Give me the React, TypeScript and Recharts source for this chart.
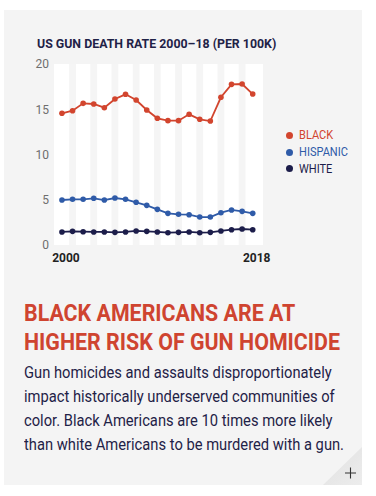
import React from "react";
import { LineChart, Line, XAxis, YAxis, CartesianGrid, ReferenceArea, Legend } from "recharts";

const years = [2000, 2001, 2002, 2003, 2004, 2005, 2006, 2007, 2008, 2009, 2010, 2011, 2012, 2013, 2014, 2015, 2016, 2017, 2018];
const black = [14.55, 14.84, 15.65, 15.58, 15.17, 16.13, 16.65, 16.02, 14.92, 14.0, 13.74, 13.74, 14.44, 13.89, 13.7, 16.32, 17.75, 17.79, 16.68];
const hispanic = [4.97, 5.05, 5.05, 5.16, 4.97, 5.19, 5.05, 4.72, 4.38, 3.94, 3.5, 3.39, 3.35, 3.09, 3.09, 3.57, 3.87, 3.72, 3.5];
const white = [1.44, 1.51, 1.47, 1.44, 1.44, 1.4, 1.44, 1.55, 1.51, 1.44, 1.36, 1.4, 1.44, 1.36, 1.4, 1.55, 1.69, 1.77, 1.69];
const yTicks = [0, 5, 10, 15, 20];
const xTicks = [2000, 2018];
const stripeYears = [2001, 2003, 2005, 2007, 2009, 2011, 2013, 2015, 2017];

const series = [
  { key: "black", name: "BLACK", color: "#d2452e" },
  { key: "hispanic", name: "HISPANIC", color: "#2f5ba8" },
  { key: "white", name: "WHITE", color: "#1c1d4a" },
];

const data = years.map((y, i) => ({ year: y, black: black[i], hispanic: hispanic[i], white: white[i] }));

const FONT = "Roboto, 'Noto Sans', sans-serif";
const NAVY = "#1f2247";
const RED = "#cf4430";

function LegendBox() {
  return (
    <div style={{ fontFamily: FONT }}>
      {series.map((s) => (
        <div key={s.key} style={{ display: "flex", alignItems: "center", height: 16.7 }}>
          <div style={{ width: 7, height: 7, borderRadius: 4, background: s.color, marginRight: 6 }} />
          <span style={{ color: s.color, fontSize: 12, display: "inline-block", transform: "scaleX(0.92)", transformOrigin: "left" }}>{s.name}</span>
        </div>
      ))}
    </div>
  );
}

const line = (top: number, fs: number, text: string, color: string, weight: number, scale: number) => (
  <div style={{ position: "absolute", left: 24, top, fontSize: fs, lineHeight: `${fs}px`, color, fontWeight: weight, whiteSpace: "nowrap", transform: `scaleX(${scale})`, transformOrigin: "left", fontFamily: FONT }}>
    {text}
  </div>
);

export default function App() {
  return (
    <div style={{ position: "absolute", left: 0, top: 0, width: 376, height: 496, background: "#fff", overflow: "hidden" }}>
      <div style={{ position: "absolute", left: 4, top: 10, width: 358, height: 475, background: "#f4f4f4" }} />
      <svg style={{ position: "absolute", left: 0, top: 0 }} width={376} height={496}>
        <defs>
          <linearGradient id="fold" x1="0" y1="0" x2="1" y2="1">
            <stop offset="0" stopColor="#e0e0e0" />
            <stop offset="1" stopColor="#ededed" />
          </linearGradient>
        </defs>
        <polygon points="323,485 362,447 362,485" fill="url(#fold)" />
        <path d="M345 473 H356 M350.5 467.5 V478.5" stroke="#333" strokeWidth={1.1} />
      </svg>
      <div style={{ position: "absolute", left: 37, top: 37.4, fontSize: 13, lineHeight: "13px", fontWeight: 700, color: NAVY, fontFamily: FONT, whiteSpace: "nowrap", transform: "scaleX(0.95)", transformOrigin: "left" }}>
        US GUN DEATH RATE 2000–18 (PER 100K)
      </div>
      <div style={{ position: "absolute", left: 0, top: 0 }}>
        <LineChart width={376} height={270} data={data} margin={{ top: 64, left: 14, right: 113, bottom: 0 }}>
          <CartesianGrid horizontal={false} vertical={false} fill="#ffffff" stroke="none" />
          {stripeYears.map((y) => (
            <ReferenceArea key={y} x1={y - 0.32} x2={y + 0.32} y1={0} y2={20} fill="#f5f5f5" fillOpacity={1} stroke="none" />
          ))}
          <XAxis dataKey="year" type="number" domain={[1999.25, 2018.97]} ticks={xTicks} axisLine={false} tickLine={false} tickSize={0} tickMargin={8} height={25} dx={4}
            tick={{ fontSize: 12, fontWeight: 700, fill: "#222", fontFamily: FONT }} />
          <YAxis domain={[0, 20]} ticks={yTicks} axisLine={false} tickLine={false} tickSize={0} tickMargin={5} width={40}
            tick={{ fontSize: 12, fill: "#6e6e6e", fontFamily: FONT }} />
          <Legend layout="horizontal" verticalAlign="middle" content={<LegendBox />} wrapperStyle={{ left: 286, top: 127, width: 80 }} />
          {series.map((s) => (
            <Line key={s.key} dataKey={s.key} name={s.name} stroke={s.color} strokeWidth={1.8}
              dot={{ r: 2.8, fill: s.color, stroke: s.color, strokeWidth: 0 }} activeDot={false} isAnimationActive={false} />
          ))}
        </LineChart>
      </div>
      {line(302.3, 23, "BLACK AMERICANS ARE AT", RED, 700, 0.93)}
      {line(330.6, 23, "HIGHER RISK OF GUN HOMICIDE", RED, 700, 0.93)}
      {line(364.8, 16, "Gun homicides and assaults disproportionately", NAVY, 400, 0.92)}
      {line(389.2, 16, "impact historically underserved communities of", NAVY, 400, 0.92)}
      {line(413.2, 16, "color. Black Americans are 10 times more likely", NAVY, 400, 0.92)}
      {line(437, 16, "than white Americans to be murdered with a gun.", NAVY, 400, 0.92)}
    </div>
  );
}
